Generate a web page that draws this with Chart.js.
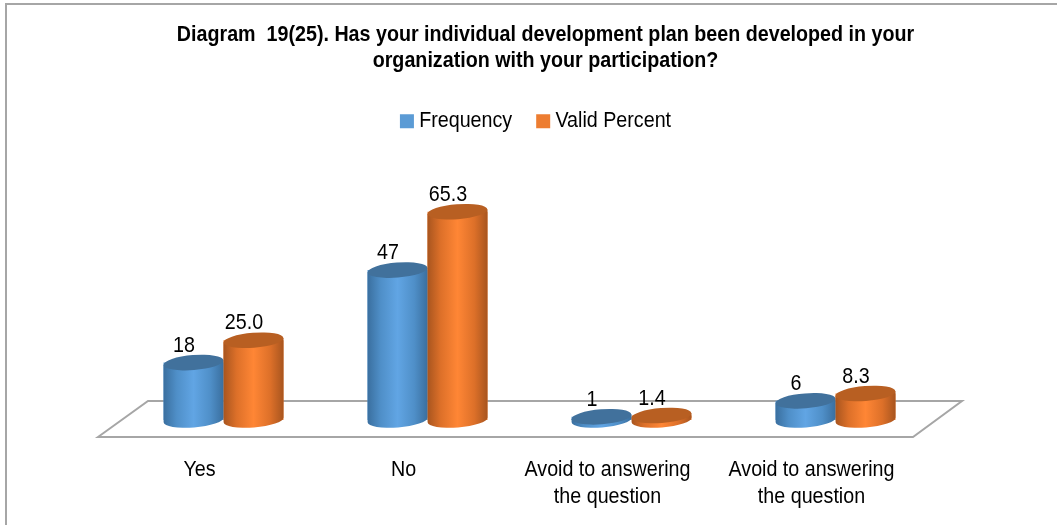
<!DOCTYPE html>
<html><head><meta charset="utf-8">
<style>html,body{margin:0;padding:0;background:#fff}#w{width:1057px;height:525px;position:relative}</style>
<script src="https://cdn.jsdelivr.net/npm/chart.js@4"></script>
</head><body><div id="w"><canvas id="c" width="1057" height="525"></canvas></div>
<script>
const categories = [["Yes"],["No"],["Avoid to answering","the question"],["Avoid to answering","the question"]];
const frequency = [18,47,1,6];
const validPercent = [25.0,65.3,1.4,8.3];
const frequencyLabels = ["18","47","1","6"];
const percentLabels = ["25.0","65.3","1.4","8.3"];
const titleLines = ["Diagram  19(25). Has your individual development plan been developed in your","organization with your participation?"];
const FONT = '"Liberation Sans",Arial,sans-serif';
const NARROW = 0.875;
const palettes = [
  {side:'#5b9bd5',mid:'#4f8fc8',hi:'#61a5e4',edge:'#3a6f9f',top:'#41719c'},
  {side:'#ed7d31',mid:'#dd7029',hi:'#ff8635',edge:'#a8551f',top:'#b85f22'}
];
const canvas=document.getElementById('c');
const c2d=canvas.getContext('2d');
const rawFill=c2d.fillText.bind(c2d), rawMeasure=c2d.measureText.bind(c2d);
c2d.fillText=function(t,x,y,m){c2d.save();c2d.translate(x,y);c2d.scale(NARROW,1);rawFill(t,0,0);c2d.restore();};
c2d.measureText=function(t){return {width:rawMeasure(t).width*NARROW};};
function cylinderGradient(ctx,x0,x1,p){
  const g=ctx.createLinearGradient(x0,0,x1,0);
  g.addColorStop(0,p.edge);g.addColorStop(.22,p.mid);
  g.addColorStop(.5,p.hi);g.addColorStop(.78,p.mid);
  g.addColorStop(1,p.edge);return g;
}
const cylinders={id:'cylinders',
  afterLayout(chart){
    chart.titleBlock.left+=16;chart.titleBlock.right+=16;
    chart.legend.left+=9;chart.legend.right+=9;
  },
  beforeDatasetsDraw(chart){
    const {ctx,chartArea:a,scales:{y}}=chart;const b=y.getPixelForValue(0);
    ctx.save();ctx.strokeStyle='#a6a6a6';ctx.lineWidth=2;ctx.lineJoin='miter';
    ctx.beginPath();ctx.moveTo(a.left-23.5,b+17);ctx.lineTo(a.left+26.5,b-19);ctx.lineTo(a.right+24.5,b-19);ctx.lineTo(a.right-24.5,b+17);ctx.closePath();ctx.stroke();
    ctx.beginPath();ctx.moveTo(6,525);ctx.lineTo(6,4);ctx.lineTo(1057,4);ctx.stroke();
    ctx.restore();
  },
  afterDatasetsDraw(chart){
    const {ctx}=chart;
    const metas=[chart.getDatasetMeta(0),chart.getDatasetMeta(1)];
    const n=metas[0].data.length;
    for(let i=0;i<n;i++){
      for(let d=0;d<2;d++){
        const el=metas[d].data[i],p=palettes[d];
        const hw=el.width/2,rx=hw,ry=7.5,rot=-4.5*Math.PI/180;
        const x0=el.x-hw,x1=el.x+hw,top=el.y,base=el.base;
        ctx.save();
        ctx.fillStyle=cylinderGradient(ctx,x0,x1,p);
        ctx.beginPath();
        ctx.moveTo(x0,top+2.3);ctx.lineTo(x1,top-2.3);
        ctx.lineTo(x1,base-2.3);
        ctx.ellipse(el.x,base,rx,ry,rot,0,Math.PI,false);
        ctx.closePath();ctx.fill();
        ctx.fillStyle=p.top;
        ctx.beginPath();ctx.ellipse(el.x,top,rx,ry,rot,0,Math.PI*2);ctx.fill();
        ctx.restore();
      }
    }
    ctx.save();ctx.fillStyle='#000';ctx.font='22.5px '+FONT;ctx.textAlign='center';ctx.textBaseline='middle';
    const texts=[frequencyLabels,percentLabels];
    metas.forEach((m,d)=>m.data.forEach((el,i)=>ctx.fillText(texts[d][i],el.x-9.5,el.y-17)));
    ctx.restore();
  }
};
new Chart(canvas,{
  type:'bar',
  data:{labels:categories,datasets:[
    {label:'Frequency',data:frequency,backgroundColor:palettes[0].side,borderWidth:0,categoryPercentage:.588,barPercentage:1,pointStyle:'rect'},
    {label:'Valid Percent',data:validPercent,backgroundColor:palettes[1].side,borderWidth:0,categoryPercentage:.588,barPercentage:1,pointStyle:'rect'}
  ]},
  plugins:[cylinders],
  options:{responsive:false,animation:false,devicePixelRatio:1,
    layout:{padding:{left:121.5,right:119.5,top:22,bottom:0}},
    plugins:{
      title:{display:true,text:titleLines,color:'#000',font:{family:FONT,size:22.5,weight:'bold',lineHeight:1.156},padding:{top:0,bottom:6}},
      legend:{position:'top',labels:{color:'#000',font:{family:FONT,size:22.5},usePointStyle:true,boxWidth:2,boxHeight:14,padding:30}},
      tooltip:{enabled:false}
    },
    scales:{
      x:{afterFit(s){s.height=105;},grid:{display:false},border:{display:false},ticks:{color:'#000',font:{family:FONT,size:22.5,lineHeight:1.2},padding:28,labelOffset:-24,maxRotation:0,autoSkip:false}},
      y:{display:false,min:0,max:87}
    }
  }
});
</script></body></html>
